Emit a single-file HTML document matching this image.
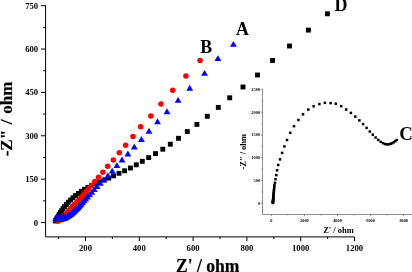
<!DOCTYPE html>
<html><head><meta charset="utf-8"><title>Nyquist plot</title>
<style>html,body{margin:0;padding:0;background:#fff}body{width:412px;height:272px;overflow:hidden}</style></head>
<body>
<svg width="412" height="272" viewBox="0 0 412 272" style="display:block;will-change:transform">
<rect width="412" height="272" fill="#fff"/>
<g fill="#000">
<rect x="324.95" y="11.35" width="4.9" height="4.9"/>
<rect x="305.95" y="27.65" width="4.9" height="4.9"/>
<rect x="287.05" y="43.55" width="4.9" height="4.9"/>
<rect x="270.05" y="58.05" width="4.9" height="4.9"/>
<rect x="255.05" y="72.55" width="4.9" height="4.9"/>
<rect x="240.55" y="84.55" width="4.9" height="4.9"/>
<rect x="227.25" y="95.35" width="4.9" height="4.9"/>
<rect x="215.85" y="104.95" width="4.9" height="4.9"/>
<rect x="204.85" y="113.85" width="4.9" height="4.9"/>
<rect x="194.45" y="121.95" width="4.9" height="4.9"/>
<rect x="184.85" y="129.15" width="4.9" height="4.9"/>
<rect x="176.05" y="135.85" width="4.9" height="4.9"/>
<rect x="167.85" y="141.75" width="4.9" height="4.9"/>
<rect x="160.35" y="146.75" width="4.9" height="4.9"/>
<rect x="153.05" y="151.15" width="4.9" height="4.9"/>
<rect x="146.25" y="155.15" width="4.9" height="4.9"/>
<rect x="139.85" y="158.85" width="4.9" height="4.9"/>
<rect x="133.85" y="162.35" width="4.9" height="4.9"/>
<rect x="127.95" y="165.55" width="4.9" height="4.9"/>
<rect x="122.15" y="168.35" width="4.9" height="4.9"/>
<rect x="116.55" y="170.85" width="4.9" height="4.9"/>
<rect x="111.05" y="173.35" width="4.9" height="4.9"/>
<rect x="106.25" y="175.65" width="4.9" height="4.9"/>
<rect x="101.55" y="177.65" width="4.9" height="4.9"/>
<rect x="97.15" y="179.55" width="4.9" height="4.9"/>
<rect x="93.05" y="181.35" width="4.9" height="4.9"/>
<rect x="89.15" y="183.15" width="4.9" height="4.9"/>
<rect x="85.55" y="184.95" width="4.9" height="4.9"/>
<rect x="82.15" y="186.85" width="4.9" height="4.9"/>
<rect x="78.95" y="188.85" width="4.9" height="4.9"/>
<rect x="75.95" y="190.95" width="4.9" height="4.9"/>
<rect x="73.15" y="193.15" width="4.9" height="4.9"/>
<rect x="70.55" y="195.35" width="4.9" height="4.9"/>
<rect x="68.15" y="197.55" width="4.9" height="4.9"/>
<rect x="65.95" y="199.75" width="4.9" height="4.9"/>
<rect x="63.95" y="201.95" width="4.9" height="4.9"/>
<rect x="62.15" y="204.15" width="4.9" height="4.9"/>
<rect x="60.55" y="206.25" width="4.9" height="4.9"/>
<rect x="59.15" y="208.25" width="4.9" height="4.9"/>
<rect x="57.95" y="210.15" width="4.9" height="4.9"/>
<rect x="56.85" y="211.95" width="4.9" height="4.9"/>
<rect x="55.95" y="213.55" width="4.9" height="4.9"/>
<rect x="55.15" y="214.95" width="4.9" height="4.9"/>
<rect x="54.55" y="216.15" width="4.9" height="4.9"/>
<rect x="53.95" y="217.15" width="4.9" height="4.9"/>
<rect x="53.55" y="217.95" width="4.9" height="4.9"/>
<rect x="53.15" y="218.55" width="4.9" height="4.9"/>
</g><g fill="#ff0000">
<circle cx="200.00" cy="60.40" r="2.75"/>
<circle cx="185.90" cy="76.00" r="2.75"/>
<circle cx="172.70" cy="90.30" r="2.75"/>
<circle cx="161.00" cy="104.00" r="2.75"/>
<circle cx="150.80" cy="116.00" r="2.75"/>
<circle cx="140.60" cy="126.70" r="2.75"/>
<circle cx="133.00" cy="136.50" r="2.75"/>
<circle cx="125.60" cy="145.30" r="2.75"/>
<circle cx="119.30" cy="152.80" r="2.75"/>
<circle cx="113.30" cy="160.00" r="2.75"/>
<circle cx="107.70" cy="166.30" r="2.75"/>
<circle cx="102.90" cy="172.20" r="2.75"/>
<circle cx="98.53" cy="177.17" r="2.75"/>
<circle cx="94.79" cy="181.54" r="2.75"/>
<circle cx="91.53" cy="185.35" r="2.75"/>
<circle cx="88.70" cy="188.66" r="2.75"/>
<circle cx="86.23" cy="191.54" r="2.75"/>
<circle cx="84.09" cy="194.05" r="2.75"/>
<circle cx="82.23" cy="196.23" r="2.75"/>
<circle cx="80.60" cy="198.13" r="2.75"/>
<circle cx="79.19" cy="199.78" r="2.75"/>
<circle cx="77.94" cy="201.19" r="2.75"/>
<circle cx="76.84" cy="202.41" r="2.75"/>
<circle cx="75.89" cy="203.48" r="2.75"/>
<circle cx="75.06" cy="204.41" r="2.75"/>
<circle cx="74.34" cy="205.21" r="2.75"/>
<circle cx="73.71" cy="205.91" r="2.75"/>
<circle cx="73.16" cy="206.53" r="2.75"/>
<circle cx="72.69" cy="207.06" r="2.75"/>
<circle cx="72.27" cy="207.52" r="2.75"/>
<circle cx="71.87" cy="207.97" r="2.75"/>
<circle cx="71.47" cy="208.41" r="2.75"/>
<circle cx="71.07" cy="208.86" r="2.75"/>
<circle cx="70.67" cy="209.31" r="2.75"/>
<circle cx="70.27" cy="209.75" r="2.75"/>
<circle cx="69.86" cy="210.19" r="2.75"/>
<circle cx="69.45" cy="210.63" r="2.75"/>
<circle cx="69.04" cy="211.07" r="2.75"/>
<circle cx="68.63" cy="211.50" r="2.75"/>
<circle cx="68.22" cy="211.94" r="2.75"/>
<circle cx="67.81" cy="212.38" r="2.75"/>
<circle cx="67.40" cy="212.82" r="2.75"/>
<circle cx="66.99" cy="213.26" r="2.75"/>
<circle cx="66.58" cy="213.70" r="2.75"/>
<circle cx="66.17" cy="214.14" r="2.75"/>
<circle cx="65.76" cy="214.57" r="2.75"/>
<circle cx="65.35" cy="215.01" r="2.75"/>
<circle cx="64.94" cy="215.45" r="2.75"/>
<circle cx="64.54" cy="215.89" r="2.75"/>
<circle cx="64.13" cy="216.33" r="2.75"/>
<circle cx="63.72" cy="216.77" r="2.75"/>
<circle cx="63.29" cy="217.18" r="2.75"/>
<circle cx="62.83" cy="217.57" r="2.75"/>
<circle cx="62.37" cy="217.96" r="2.75"/>
<circle cx="61.92" cy="218.36" r="2.75"/>
<circle cx="61.46" cy="218.75" r="2.75"/>
<circle cx="61.01" cy="219.14" r="2.75"/>
<circle cx="60.55" cy="219.53" r="2.75"/>
<circle cx="60.10" cy="219.92" r="2.75"/>
<circle cx="59.58" cy="220.22" r="2.75"/>
<circle cx="59.05" cy="220.49" r="2.75"/>
<circle cx="58.52" cy="220.77" r="2.75"/>
<circle cx="57.98" cy="221.05" r="2.75"/>
</g><g fill="#0000ff">
<path d="M230.00 46.85L236.80 46.85L233.40 40.95Z"/>
<path d="M214.50 61.05L221.30 61.05L217.90 55.15Z"/>
<path d="M201.10 75.85L207.90 75.85L204.50 69.95Z"/>
<path d="M186.30 90.65L193.10 90.65L189.70 84.75Z"/>
<path d="M174.70 102.85L181.50 102.85L178.10 96.95Z"/>
<path d="M163.60 114.15L170.40 114.15L167.00 108.25Z"/>
<path d="M154.10 124.25L160.90 124.25L157.50 118.35Z"/>
<path d="M145.60 133.65L152.40 133.65L149.00 127.75Z"/>
<path d="M138.00 141.95L144.80 141.95L141.40 136.05Z"/>
<path d="M130.90 149.45L137.70 149.45L134.30 143.55Z"/>
<path d="M124.50 156.45L131.30 156.45L127.90 150.55Z"/>
<path d="M118.60 162.45L125.40 162.45L122.00 156.55Z"/>
<path d="M113.50 168.05L120.30 168.05L116.90 162.15Z"/>
<path d="M108.80 173.55L115.60 173.55L112.20 167.65Z"/>
<path d="M104.50 178.15L111.30 178.15L107.90 172.25Z"/>
<path d="M100.51 182.17L107.31 182.17L103.91 176.27Z"/>
<path d="M96.92 185.79L103.72 185.79L100.32 179.89Z"/>
<path d="M93.68 189.05L100.48 189.05L97.08 183.15Z"/>
<path d="M90.82 192.03L97.62 192.03L94.22 186.13Z"/>
<path d="M88.33 194.79L95.13 194.79L91.73 188.89Z"/>
<path d="M86.09 197.27L92.89 197.27L89.49 191.37Z"/>
<path d="M84.07 199.51L90.87 199.51L87.47 193.61Z"/>
<path d="M82.25 201.52L89.05 201.52L85.65 195.62Z"/>
<path d="M80.62 203.33L87.42 203.33L84.02 197.43Z"/>
<path d="M79.15 204.97L85.95 204.97L82.55 199.07Z"/>
<path d="M77.83 206.44L84.63 206.44L81.23 200.54Z"/>
<path d="M76.64 207.76L83.44 207.76L80.04 201.86Z"/>
<path d="M75.57 208.95L82.37 208.95L78.97 203.05Z"/>
<path d="M74.61 210.02L81.41 210.02L78.01 204.12Z"/>
<path d="M73.75 210.99L80.55 210.99L77.15 205.09Z"/>
<path d="M72.89 211.78L79.69 211.78L76.29 205.88Z"/>
<path d="M72.11 212.48L78.91 212.48L75.51 206.58Z"/>
<path d="M71.40 213.11L78.20 213.11L74.80 207.21Z"/>
<path d="M70.77 213.68L77.57 213.68L74.17 207.78Z"/>
<path d="M70.20 214.19L77.00 214.19L73.60 208.29Z"/>
<path d="M69.68 214.64L76.48 214.64L73.08 208.74Z"/>
<path d="M69.22 215.06L76.02 215.06L72.62 209.16Z"/>
<path d="M68.77 215.46L75.57 215.46L72.17 209.56Z"/>
<path d="M68.33 215.86L75.13 215.86L71.73 209.96Z"/>
<path d="M67.88 216.26L74.68 216.26L71.28 210.36Z"/>
<path d="M67.43 216.66L74.23 216.66L70.83 210.76Z"/>
<path d="M66.97 217.03L73.77 217.03L70.37 211.13Z"/>
<path d="M66.46 217.36L73.26 217.36L69.86 211.46Z"/>
<path d="M65.95 217.68L72.75 217.68L69.35 211.78Z"/>
<path d="M65.45 218.00L72.25 218.00L68.85 212.10Z"/>
<path d="M64.94 218.32L71.74 218.32L68.34 212.42Z"/>
<path d="M64.44 218.65L71.24 218.65L67.84 212.75Z"/>
<path d="M63.93 218.97L70.73 218.97L67.33 213.07Z"/>
<path d="M63.42 219.29L70.22 219.29L66.82 213.39Z"/>
<path d="M62.92 219.61L69.72 219.61L66.32 213.71Z"/>
<path d="M62.41 219.93L69.21 219.93L65.81 214.03Z"/>
<path d="M61.90 220.26L68.70 220.26L65.30 214.36Z"/>
<path d="M61.37 220.51L68.17 220.51L64.77 214.61Z"/>
<path d="M60.79 220.68L67.59 220.68L64.19 214.78Z"/>
<path d="M60.21 220.84L67.01 220.84L63.61 214.94Z"/>
<path d="M59.64 221.00L66.44 221.00L63.04 215.10Z"/>
<path d="M59.06 221.16L65.86 221.16L62.46 215.26Z"/>
<path d="M58.48 221.32L65.28 221.32L61.88 215.42Z"/>
<path d="M57.90 221.49L64.70 221.49L61.30 215.59Z"/>
<path d="M57.33 221.65L64.13 221.65L60.73 215.75Z"/>
<path d="M56.75 221.81L63.55 221.81L60.15 215.91Z"/>
<path d="M56.15 221.88L62.95 221.88L59.55 215.98Z"/>
<path d="M55.56 221.92L62.36 221.92L58.96 216.02Z"/>
<path d="M54.96 221.96L61.76 221.96L58.36 216.06Z"/>
<path d="M54.36 222.00L61.16 222.00L57.76 216.10Z"/>
<path d="M53.76 222.04L60.56 222.04L57.16 216.14Z"/>
<path d="M53.16 222.08L59.96 222.08L56.56 216.18Z"/>
<path d="M52.56 222.12L59.36 222.12L55.96 216.22Z"/>
<path d="M60.10 219.25L66.90 219.25L63.50 213.35Z"/>
<path d="M58.10 219.25L64.90 219.25L61.50 213.35Z"/>
<path d="M56.10 219.35L62.90 219.35L59.50 213.45Z"/>
<path d="M54.40 219.55L61.20 219.55L57.80 213.65Z"/>
<path d="M52.90 220.05L59.70 220.05L56.30 214.15Z"/>
<path d="M52.20 221.05L59.00 221.05L55.60 215.15Z"/>
</g>
<g stroke="#000" stroke-width="1" fill="none" shape-rendering="auto">
<path d="M45.6 5.2V236.9H354.5"/>
<path d="M45.6 222.50h-4.6"/>
<path d="M45.6 200.82h-2.4"/>
<path d="M45.6 179.13h-4.6"/>
<path d="M45.6 157.45h-2.4"/>
<path d="M45.6 135.77h-4.6"/>
<path d="M45.6 114.09h-2.4"/>
<path d="M45.6 92.41h-4.6"/>
<path d="M45.6 70.72h-2.4"/>
<path d="M45.6 49.04h-4.6"/>
<path d="M45.6 27.36h-2.4"/>
<path d="M45.6 5.67h-4.6"/>
<path d="M58.60 236.9v2.1"/>
<path d="M85.50 236.9v4.3"/>
<path d="M112.40 236.9v2.1"/>
<path d="M139.30 236.9v4.3"/>
<path d="M166.20 236.9v2.1"/>
<path d="M193.10 236.9v4.3"/>
<path d="M220.00 236.9v2.1"/>
<path d="M246.90 236.9v4.3"/>
<path d="M273.80 236.9v2.1"/>
<path d="M300.70 236.9v4.3"/>
<path d="M327.60 236.9v2.1"/>
<path d="M354.50 236.9v4.3"/>
</g>
<g font-family="'Liberation Serif',serif" font-weight="bold" fill="#000">
<g font-size="8.9" text-anchor="end">
<text x="38.2" y="225.50" textLength="4.35" lengthAdjust="spacingAndGlyphs">0</text>
<text x="38.2" y="182.13" textLength="13.05" lengthAdjust="spacingAndGlyphs">150</text>
<text x="38.2" y="138.77" textLength="13.05" lengthAdjust="spacingAndGlyphs">300</text>
<text x="38.2" y="95.41" textLength="13.05" lengthAdjust="spacingAndGlyphs">450</text>
<text x="38.2" y="52.04" textLength="13.05" lengthAdjust="spacingAndGlyphs">600</text>
<text x="38.2" y="8.67" textLength="13.05" lengthAdjust="spacingAndGlyphs">750</text>
</g><g font-size="8.9" text-anchor="middle">
<text x="85.50" y="251.2" textLength="13.05" lengthAdjust="spacingAndGlyphs">200</text>
<text x="139.30" y="251.2" textLength="13.05" lengthAdjust="spacingAndGlyphs">400</text>
<text x="193.10" y="251.2" textLength="13.05" lengthAdjust="spacingAndGlyphs">600</text>
<text x="246.90" y="251.2" textLength="13.05" lengthAdjust="spacingAndGlyphs">800</text>
<text x="300.70" y="251.2" textLength="17.40" lengthAdjust="spacingAndGlyphs">1000</text>
<text x="354.50" y="251.2" textLength="17.40" lengthAdjust="spacingAndGlyphs">1200</text>
</g>
<text transform="translate(176.0,271.9) scale(1.015,1.06)" font-size="17.3" stroke="#000" stroke-width="0.2">Z' / ohm</text>
<text transform="translate(11.7,156.3) rotate(-90) scale(1.05,1)" font-size="16.2" word-spacing="1.4" stroke="#000" stroke-width="0.2">-Z" / ohm</text>
<text x="236" y="35" font-size="17.8">A</text>
<text x="200.3" y="52.8" font-size="17.8">B</text>
<text x="334.6" y="10.8" font-size="18">D</text>
<text x="399.3" y="139.6" font-size="18.8">C</text>
</g>
<g fill="#000">
<rect x="271.65" y="201.75" width="2.5" height="2.5"/>
<rect x="271.67" y="201.37" width="2.5" height="2.5"/>
<rect x="271.69" y="200.95" width="2.5" height="2.5"/>
<rect x="271.72" y="200.50" width="2.5" height="2.5"/>
<rect x="271.76" y="200.00" width="2.5" height="2.5"/>
<rect x="271.80" y="199.46" width="2.5" height="2.5"/>
<rect x="271.84" y="198.87" width="2.5" height="2.5"/>
<rect x="271.89" y="198.22" width="2.5" height="2.5"/>
<rect x="271.95" y="197.52" width="2.5" height="2.5"/>
<rect x="272.01" y="196.75" width="2.5" height="2.5"/>
<rect x="272.08" y="195.91" width="2.5" height="2.5"/>
<rect x="272.16" y="194.99" width="2.5" height="2.5"/>
<rect x="272.24" y="193.99" width="2.5" height="2.5"/>
<rect x="272.34" y="192.90" width="2.5" height="2.5"/>
<rect x="272.45" y="191.71" width="2.5" height="2.5"/>
<rect x="272.57" y="190.41" width="2.5" height="2.5"/>
<rect x="272.70" y="188.99" width="2.5" height="2.5"/>
<rect x="272.85" y="187.44" width="2.5" height="2.5"/>
<rect x="273.01" y="185.75" width="2.5" height="2.5"/>
<rect x="273.19" y="183.91" width="2.5" height="2.5"/>
<rect x="273.75" y="181.55" width="2.5" height="2.5"/>
<rect x="274.25" y="177.95" width="2.5" height="2.5"/>
<rect x="275.05" y="173.85" width="2.5" height="2.5"/>
<rect x="275.85" y="169.05" width="2.5" height="2.5"/>
<rect x="276.95" y="163.75" width="2.5" height="2.5"/>
<rect x="278.75" y="158.15" width="2.5" height="2.5"/>
<rect x="280.85" y="151.65" width="2.5" height="2.5"/>
<rect x="283.15" y="145.15" width="2.5" height="2.5"/>
<rect x="285.75" y="138.75" width="2.5" height="2.5"/>
<rect x="288.95" y="131.55" width="2.5" height="2.5"/>
<rect x="292.75" y="124.95" width="2.5" height="2.5"/>
<rect x="297.15" y="118.75" width="2.5" height="2.5"/>
<rect x="301.75" y="113.05" width="2.5" height="2.5"/>
<rect x="307.05" y="108.35" width="2.5" height="2.5"/>
<rect x="312.35" y="105.05" width="2.5" height="2.5"/>
<rect x="318.15" y="102.85" width="2.5" height="2.5"/>
<rect x="323.65" y="101.55" width="2.5" height="2.5"/>
<rect x="329.35" y="101.85" width="2.5" height="2.5"/>
<rect x="334.55" y="102.45" width="2.5" height="2.5"/>
<rect x="339.95" y="104.95" width="2.5" height="2.5"/>
<rect x="344.95" y="108.25" width="2.5" height="2.5"/>
<rect x="349.65" y="111.65" width="2.5" height="2.5"/>
<rect x="354.05" y="115.35" width="2.5" height="2.5"/>
<rect x="358.15" y="119.15" width="2.5" height="2.5"/>
<rect x="361.85" y="122.85" width="2.5" height="2.5"/>
<rect x="365.35" y="126.65" width="2.5" height="2.5"/>
<rect x="368.55" y="130.25" width="2.5" height="2.5"/>
<rect x="371.55" y="133.45" width="2.5" height="2.5"/>
<rect x="374.35" y="136.25" width="2.5" height="2.5"/>
<rect x="376.95" y="138.65" width="2.5" height="2.5"/>
<rect x="379.45" y="140.55" width="2.5" height="2.5"/>
<rect x="381.75" y="141.95" width="2.5" height="2.5"/>
<rect x="383.85" y="142.75" width="2.5" height="2.5"/>
<rect x="385.75" y="143.15" width="2.5" height="2.5"/>
<rect x="387.55" y="143.05" width="2.5" height="2.5"/>
<rect x="389.25" y="142.65" width="2.5" height="2.5"/>
<rect x="390.85" y="141.95" width="2.5" height="2.5"/>
<rect x="392.45" y="141.05" width="2.5" height="2.5"/>
<rect x="393.95" y="139.95" width="2.5" height="2.5"/>
<rect x="395.45" y="138.75" width="2.5" height="2.5"/>
</g>
<g stroke="#444" stroke-width="0.6" fill="none">
<path d="M262.5 89.40V214.5H412"/>
<path d="M262.5 203.20h-1.7"/>
<path d="M262.5 191.82h-1.0"/>
<path d="M262.5 180.44h-1.7"/>
<path d="M262.5 169.06h-1.0"/>
<path d="M262.5 157.68h-1.7"/>
<path d="M262.5 146.30h-1.0"/>
<path d="M262.5 134.92h-1.7"/>
<path d="M262.5 123.54h-1.0"/>
<path d="M262.5 112.16h-1.7"/>
<path d="M262.5 100.78h-1.0"/>
<path d="M262.5 89.40h-1.7"/>
<path d="M271.30 214.5v1.7"/>
<path d="M287.85 214.5v1.0"/>
<path d="M304.40 214.5v1.7"/>
<path d="M320.95 214.5v1.0"/>
<path d="M337.50 214.5v1.7"/>
<path d="M354.05 214.5v1.0"/>
<path d="M370.60 214.5v1.7"/>
<path d="M387.15 214.5v1.0"/>
<path d="M403.70 214.5v1.7"/>
</g>
<g font-family="'Liberation Serif',serif" font-weight="bold" fill="#000">
<g font-size="4.4" text-anchor="end">
<text x="260.1" y="204.70">0</text>
<text x="260.1" y="181.94">500</text>
<text x="260.1" y="159.18">1000</text>
<text x="260.1" y="136.42">1500</text>
<text x="260.1" y="113.66">2000</text>
<text x="260.1" y="90.90">2500</text>
</g><g font-size="4.3" text-anchor="middle">
<text x="271.30" y="222.3">0</text>
<text x="304.40" y="222.3">2000</text>
<text x="337.50" y="222.3">4000</text>
<text x="370.60" y="222.3">6000</text>
<text x="403.70" y="222.3">8000</text>
</g>
<text x="338.5" y="233.4" font-size="8.5" text-anchor="middle">Z' / ohm</text>
<text transform="translate(246.2,169.5) rotate(-90)" font-size="8.2" textLength="35.5" lengthAdjust="spacingAndGlyphs">-Z" / ohm</text>
</g>
</svg>
</body></html>
